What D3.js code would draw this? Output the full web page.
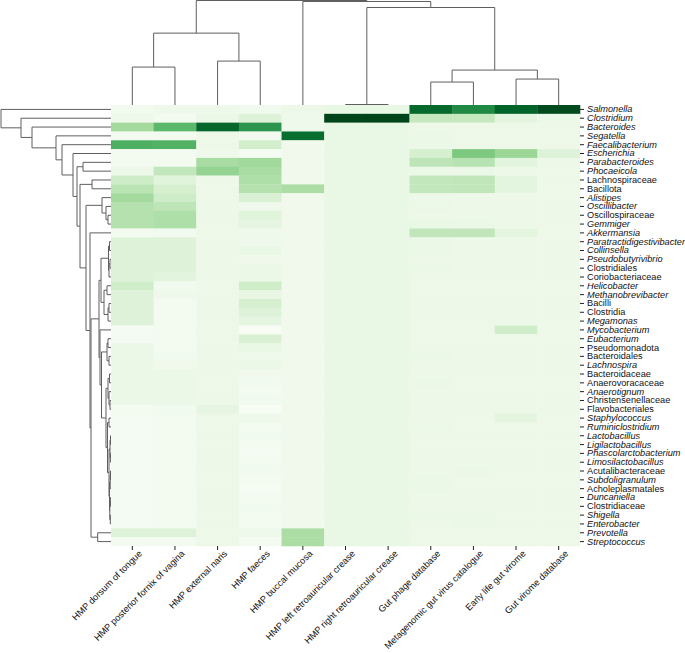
<!DOCTYPE html>
<html>
<head>
<meta charset="utf-8">
<script src="https://cdn.jsdelivr.net/npm/d3@7"></script>
<style>
  body { margin: 0; background: #fff; }
  svg text { font-family: "Liberation Sans", Arial, sans-serif; fill: #111; }
</style>
</head>
<body>
<svg id="chart" width="685" height="653"></svg>
<script>
// columns (viral sources) and rows (taxa), in dendrogram order
const columns = ["HMP dorsum of tongue", "HMP posterior fornix of vagina", "HMP external naris",
  "HMP faeces", "HMP buccal mucosa", "HMP left retroauricular crease", "HMP right retroauricular crease",
  "Gut phage database", "Metagenomic gut virus catalogue", "Early life gut virome", "Gut virome database"];

const taxa = ["Salmonella", "Clostridium", "Bacteroides", "Segatella", "Faecalibacterium", "Escherichia",
  "Parabacteroides", "Phocaeicola", "Lachnospiraceae", "Bacillota", "Alistipes", "Oscillibacter",
  "Oscillospiraceae", "Gemmiger", "Akkermansia", "Paratractidigestivibacter", "Collinsella",
  "Pseudobutyrivibrio", "Clostridiales", "Coriobacteriaceae", "Helicobacter", "Methanobrevibacter",
  "Bacilli", "Clostridia", "Megamonas", "Mycobacterium", "Eubacterium", "Pseudomonadota", "Bacteroidales",
  "Lachnospira", "Bacteroidaceae", "Anaerovoracaceae", "Anaerotignum", "Christensenellaceae",
  "Flavobacteriales", "Staphylococcus", "Ruminiclostridium", "Lactobacillus", "Ligilactobacillus",
  "Phascolarctobacterium", "Limosilactobacillus", "Acutalibacteraceae", "Subdoligranulum",
  "Acholeplasmatales", "Duncaniella", "Clostridiaceae", "Shigella", "Enterobacter", "Prevotella",
  "Streptococcus"];

// ranks above genus are set upright, genera in italics
const higherTaxa = ["Lachnospiraceae", "Bacillota", "Oscillospiraceae", "Clostridiales", "Coriobacteriaceae",
  "Bacilli", "Clostridia", "Pseudomonadota", "Bacteroidales", "Bacteroidaceae", "Anaerovoracaceae",
  "Christensenellaceae", "Flavobacteriales", "Acutalibacteraceae", "Acholeplasmatales", "Clostridiaceae"];

// relative abundance (0..1), one row per taxon, one value per column
const values = [
  [0.03, 0.06, 0.06, 0.04, 0.07, 0.09, 0.09, 0.88, 0.76, 0.90, 0.98],
  [0.06, 0.03, 0.08, 0.15, 0.06, 1.00, 1.00, 0.25, 0.25, 0.12, 0.08],
  [0.36, 0.56, 0.89, 0.71, 0.06, 0.09, 0.09, 0.07, 0.07, 0.07, 0.07],
  [0.03, 0.03, 0.07, 0.03, 0.86, 0.09, 0.09, 0.08, 0.07, 0.07, 0.07],
  [0.60, 0.59, 0.07, 0.20, 0.05, 0.09, 0.09, 0.08, 0.07, 0.07, 0.07],
  [0.03, 0.03, 0.06, 0.02, 0.05, 0.09, 0.09, 0.19, 0.47, 0.39, 0.15],
  [0.03, 0.03, 0.35, 0.37, 0.05, 0.09, 0.09, 0.28, 0.30, 0.13, 0.07],
  [0.07, 0.26, 0.41, 0.35, 0.05, 0.09, 0.09, 0.08, 0.08, 0.07, 0.07],
  [0.22, 0.14, 0.07, 0.33, 0.05, 0.09, 0.09, 0.26, 0.27, 0.12, 0.07],
  [0.29, 0.19, 0.07, 0.31, 0.34, 0.09, 0.09, 0.26, 0.27, 0.12, 0.07],
  [0.36, 0.22, 0.07, 0.17, 0.05, 0.09, 0.09, 0.07, 0.07, 0.07, 0.07],
  [0.31, 0.28, 0.07, 0.06, 0.05, 0.09, 0.09, 0.08, 0.07, 0.07, 0.07],
  [0.31, 0.33, 0.07, 0.14, 0.05, 0.09, 0.09, 0.07, 0.07, 0.07, 0.07],
  [0.31, 0.33, 0.07, 0.11, 0.05, 0.09, 0.09, 0.09, 0.08, 0.07, 0.07],
  [0.03, 0.04, 0.07, 0.06, 0.05, 0.09, 0.09, 0.27, 0.27, 0.12, 0.07],
  [0.15, 0.15, 0.07, 0.06, 0.05, 0.09, 0.09, 0.08, 0.07, 0.07, 0.07],
  [0.15, 0.15, 0.07, 0.09, 0.05, 0.09, 0.09, 0.08, 0.07, 0.07, 0.07],
  [0.15, 0.15, 0.07, 0.05, 0.05, 0.09, 0.09, 0.07, 0.07, 0.07, 0.07],
  [0.15, 0.15, 0.07, 0.08, 0.05, 0.09, 0.09, 0.08, 0.07, 0.07, 0.07],
  [0.15, 0.13, 0.07, 0.08, 0.05, 0.09, 0.09, 0.07, 0.07, 0.07, 0.07],
  [0.21, 0.04, 0.07, 0.21, 0.05, 0.09, 0.09, 0.07, 0.07, 0.07, 0.07],
  [0.15, 0.06, 0.07, 0.10, 0.05, 0.09, 0.09, 0.07, 0.07, 0.07, 0.07],
  [0.15, 0.03, 0.07, 0.19, 0.05, 0.09, 0.09, 0.07, 0.07, 0.07, 0.07],
  [0.15, 0.03, 0.07, 0.15, 0.05, 0.09, 0.09, 0.07, 0.07, 0.07, 0.07],
  [0.15, 0.03, 0.07, 0.11, 0.05, 0.09, 0.09, 0.07, 0.07, 0.07, 0.07],
  [0.02, 0.03, 0.07, 0.00, 0.05, 0.09, 0.09, 0.07, 0.07, 0.21, 0.07],
  [0.02, 0.03, 0.07, 0.17, 0.05, 0.09, 0.09, 0.07, 0.07, 0.07, 0.07],
  [0.08, 0.03, 0.07, 0.09, 0.05, 0.09, 0.09, 0.07, 0.07, 0.07, 0.07],
  [0.08, 0.04, 0.07, 0.06, 0.05, 0.09, 0.09, 0.08, 0.07, 0.07, 0.07],
  [0.08, 0.05, 0.07, 0.08, 0.05, 0.09, 0.09, 0.07, 0.07, 0.07, 0.07],
  [0.08, 0.08, 0.07, 0.05, 0.05, 0.09, 0.09, 0.07, 0.07, 0.07, 0.07],
  [0.08, 0.08, 0.07, 0.04, 0.05, 0.09, 0.09, 0.08, 0.07, 0.07, 0.07],
  [0.08, 0.08, 0.07, 0.03, 0.05, 0.09, 0.09, 0.07, 0.07, 0.07, 0.07],
  [0.08, 0.08, 0.07, 0.04, 0.05, 0.09, 0.09, 0.07, 0.07, 0.07, 0.07],
  [0.03, 0.04, 0.11, 0.00, 0.05, 0.09, 0.09, 0.07, 0.07, 0.07, 0.07],
  [0.02, 0.03, 0.07, 0.06, 0.05, 0.09, 0.09, 0.07, 0.07, 0.12, 0.07],
  [0.02, 0.03, 0.07, 0.03, 0.05, 0.09, 0.09, 0.08, 0.07, 0.07, 0.07],
  [0.02, 0.03, 0.07, 0.04, 0.05, 0.09, 0.09, 0.07, 0.07, 0.07, 0.07],
  [0.02, 0.03, 0.07, 0.03, 0.05, 0.09, 0.09, 0.07, 0.07, 0.07, 0.07],
  [0.02, 0.03, 0.07, 0.02, 0.05, 0.09, 0.09, 0.07, 0.07, 0.07, 0.07],
  [0.02, 0.03, 0.07, 0.03, 0.05, 0.09, 0.09, 0.07, 0.07, 0.07, 0.07],
  [0.02, 0.03, 0.07, 0.04, 0.05, 0.09, 0.09, 0.07, 0.08, 0.07, 0.07],
  [0.02, 0.03, 0.07, 0.03, 0.05, 0.09, 0.09, 0.08, 0.07, 0.07, 0.07],
  [0.02, 0.03, 0.07, 0.02, 0.05, 0.09, 0.09, 0.08, 0.07, 0.07, 0.07],
  [0.02, 0.03, 0.07, 0.03, 0.05, 0.09, 0.09, 0.07, 0.07, 0.07, 0.07],
  [0.02, 0.03, 0.07, 0.04, 0.05, 0.09, 0.09, 0.07, 0.07, 0.07, 0.07],
  [0.02, 0.03, 0.07, 0.03, 0.05, 0.09, 0.09, 0.08, 0.08, 0.07, 0.07],
  [0.02, 0.03, 0.07, 0.03, 0.05, 0.09, 0.09, 0.07, 0.08, 0.07, 0.07],
  [0.15, 0.15, 0.07, 0.06, 0.34, 0.09, 0.09, 0.07, 0.07, 0.07, 0.07],
  [0.03, 0.03, 0.07, 0.03, 0.34, 0.09, 0.09, 0.07, 0.07, 0.07, 0.07]
];

// column clustering: [left, right, merge distance]
const colTree = [
  [["HMP dorsum of tongue", "HMP posterior fornix of vagina", 38],
   ["HMP external naris", "HMP faeces", 44], 72],
  ["HMP buccal mucosa",
   [["HMP left retroauricular crease", "HMP right retroauricular crease", 0.5],
    [["Gut phage database", "Metagenomic gut virus catalogue", 23],
     ["Early life gut virome", "Gut virome database", 26], 35], 97.7], 103.7],
  104.7];

// row clustering: [left, right, merge distance]
const rowTree =
  ["Salmonella", ["Clostridium", ["Bacteroides", ["Segatella", ["Faecalibacterium", ["Escherichia", [
    ["Parabacteroides", "Phocaeicola", 28],
    [["Lachnospiraceae", "Bacillota", 19],
     [["Alistipes", ["Oscillibacter", ["Oscillospiraceae", "Gemmiger", 3], 5], 9],
      ["Akkermansia",
       [[[[["Paratractidigestivibacter", "Collinsella", 1.5],
           [["Pseudobutyrivibrio", "Clostridiales", 1], "Coriobacteriaceae", 2], 2.5],
          [["Helicobacter", "Methanobrevibacter", 4], [["Bacilli", "Clostridia", 2], "Megamonas", 3], 7], 10],
         ["Mycobacterium",
          [[["Eubacterium", "Pseudomonadota", 3], ["Bacteroidales", "Lachnospira", 2], 4],
           [[["Bacteroidaceae", "Anaerovoracaceae", 1.5],
             ["Anaerotignum", ["Christensenellaceae", "Flavobacteriales", 1], 2], 3],
            [["Staphylococcus", "Ruminiclostridium", 2],
             [[["Lactobacillus", "Ligilactobacillus", 0.5], ["Phascolarctobacterium", "Limosilactobacillus", 0.6], 1],
              [[["Acutalibacteraceae", "Subdoligranulum", 0.5], "Acholeplasmatales", 0.8],
               [["Duncaniella", "Clostridiaceae", 0.6], ["Shigella", "Enterobacter", 0.7], 1.2], 1.5], 2], 3.5], 5], 9.5], 11], 12],
        ["Prevotella", "Streptococcus", 13.3], 20], 21], 25], 31], 34], 38], 49], 55], 79], 90], 110];

const svg = d3.select("#chart");
const mapLeft = 111, mapRight = 580, mapTop = 105, mapBottom = 546;

const x = d3.scaleBand().domain(columns).range([mapLeft, mapRight]);
const y = d3.scaleBand().domain(taxa).range([mapTop, mapBottom]);
const color = d3.scaleSequential(d3.interpolateGreens).domain([0, 1]);

// heatmap cells
const cells = [];
values.forEach((row, i) => row.forEach((v, j) => cells.push({taxon: taxa[i], col: columns[j], v: v})));
svg.append("g").selectAll("rect")
  .data(cells)
  .enter().append("rect")
  .attr("x", d => x(d.col))
  .attr("y", d => y(d.taxon))
  .attr("width", x.bandwidth() + 0.3)
  .attr("height", y.bandwidth() + 0.3)
  .attr("fill", d => color(d.v));

// dendrograms
const colH = d3.scaleLinear().domain([0, 104.7]).range([mapTop, 0.5]);
const rowH = d3.scaleLinear().domain([0, 110]).range([mapLeft, 1]);
const gDen = svg.append("g").attr("fill", "none").attr("stroke", "#5f5f5f").attr("stroke-width", 1);

function drawCol(node) {
  if (typeof node === "string") return {p: x(node) + x.bandwidth() / 2, h: 0};
  const a = drawCol(node[0]), b = drawCol(node[1]), h = node[2];
  gDen.append("path").attr("d",
    `M${a.p},${colH(a.h)}V${colH(h)}H${b.p}V${colH(b.h)}`);
  return {p: (a.p + b.p) / 2, h: h};
}
function drawRow(node) {
  if (typeof node === "string") return {p: y(node) + y.bandwidth() / 2, h: 0};
  const a = drawRow(node[0]), b = drawRow(node[1]), h = node[2];
  gDen.append("path").attr("d",
    `M${rowH(a.h)},${a.p}H${rowH(h)}V${b.p}H${rowH(b.h)}`);
  return {p: (a.p + b.p) / 2, h: h};
}
drawCol(colTree);
drawRow(rowTree);

// row labels
const yAxis = svg.append("g")
  .attr("transform", `translate(${mapRight},0)`)
  .call(d3.axisRight(y).tickSize(4).tickPadding(3));
yAxis.select(".domain").remove();
yAxis.selectAll("line").attr("stroke", "#222");
yAxis.selectAll("text")
  .attr("font-size", "9.2px")
  .attr("font-family", "'Liberation Sans', Arial, sans-serif")
  .attr("font-style", d => higherTaxa.includes(d) ? "normal" : "italic")
  .attr("fill", "#111");

// column labels
const xAxis = svg.append("g")
  .attr("transform", `translate(0,${mapBottom})`)
  .call(d3.axisBottom(x).tickSize(4));
xAxis.select(".domain").remove();
xAxis.selectAll("line").attr("stroke", "#222");
xAxis.selectAll("text")
  .attr("font-size", "9.2px")
  .attr("font-family", "'Liberation Sans', Arial, sans-serif")
  .attr("fill", "#111")
  .attr("text-anchor", "end")
  .attr("dy", "0.35em")
  .attr("transform", "translate(3,1) rotate(-45)");
</script>
</body>
</html>
